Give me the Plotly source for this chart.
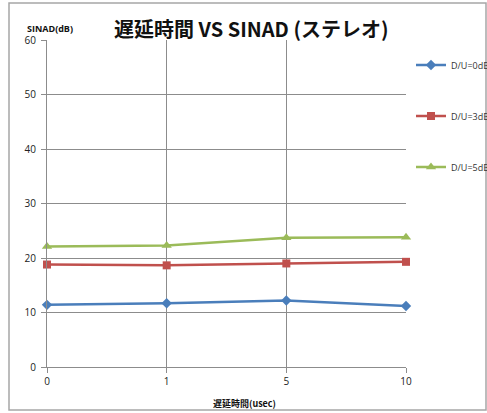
import plotly.graph_objects as go

# Delay time categories (usec) and SINAD readings (dB) per D/U ratio
delays = ["0", "1", "5", "10"]
sinad_du0 = [11.4, 11.7, 12.2, 11.2]
sinad_du3 = [18.8, 18.65, 19.0, 19.3]
sinad_du5 = [22.1, 22.3, 23.7, 23.8]
series_names = ["D/U=0dB", "D/U=3dB", "D/U=5dB"]
y_ticks = [0, 10, 20, 30, 40, 50, 60]

W, H = 487, 413
ML, MR, MT, MB = 47, 81, 40, 46
PW, PH = W - ML - MR, H - MT - MB

def px_x(p):
    return (p - ML) / PW

def px_y(p):
    return (H - MB - p) / PH

grid = "#8c8c8c"
font = "Open Sans, Noto Sans CJK JP, sans-serif"
cjk = "Noto Sans CJK JP, sans-serif"

styles = [
    dict(color="#4a7ebb", symbol="diamond", size=8),
    dict(color="#c0504d", symbol="square", size=8),
    dict(color="#9bbb59", symbol="triangle-up", size=9),
]

fig = go.Figure()
for i, (name, vals, st) in enumerate(zip(series_names, [sinad_du0, sinad_du3, sinad_du5], styles)):
    fig.add_trace(go.Scatter(
        x=delays, y=vals, name=name, mode="lines+markers",
        line=dict(color=st["color"], width=2.5),
        marker=dict(color=st["color"], symbol=st["symbol"], size=st["size"]),
        cliponaxis=False,
        legend="legend" if i == 0 else f"legend{i + 1}",
    ))

legend_rows = [65, 116, 167]
legend_common = dict(
    x=px_x(411), xanchor="left", yanchor="middle",
    font=dict(family=font, size=9, color="#333333"),
    bgcolor="rgba(0,0,0,0)", itemwidth=30,
)
fig.update_layout(
    legend=dict(y=px_y(legend_rows[0]), **legend_common),
    legend2=dict(y=px_y(legend_rows[1]), **legend_common),
    legend3=dict(y=px_y(legend_rows[2]), **legend_common),
)

fig.update_layout(
    width=W, height=H,
    margin=dict(l=ML, r=MR, t=MT, b=MB, autoexpand=False),
    paper_bgcolor="white", plot_bgcolor="white",
    showlegend=True,
    xaxis=dict(
        type="category", range=[0, 3], showgrid=True, gridcolor=grid, gridwidth=1,
        showline=True, linecolor=grid, linewidth=1,
        ticks="outside", ticklen=5, tickcolor=grid,
        tickfont=dict(family=font, size=10, color="#222222"),
        zeroline=False, fixedrange=True,
    ),
    yaxis=dict(
        range=[0, 60], tickvals=y_ticks, showgrid=True, gridcolor=grid, gridwidth=1,
        showline=True, linecolor=grid, linewidth=1,
        ticks="outside", ticklen=5, tickcolor=grid, ticklabelstandoff=3,
        tickfont=dict(family=font, size=10, color="#222222"),
        zeroline=False, fixedrange=True,
    ),
    shapes=[dict(
        type="rect", xref="paper", yref="paper",
        x0=px_x(9), x1=px_x(486), y0=px_y(410), y1=px_y(3),
        line=dict(color="#a6a6a6", width=1.5), fillcolor="rgba(0,0,0,0)", layer="below",
    )],
    annotations=[
        dict(text="<b>遅延時間 VS SINAD (ステレオ)</b>", xref="paper", yref="paper",
             x=px_x(251), y=px_y(29), xanchor="center", yanchor="middle",
             showarrow=False, font=dict(family=cjk, size=20, color="#111111")),
        dict(text="<b>SINAD(dB)</b>", xref="paper", yref="paper",
             x=px_x(25), y=px_y(28), xanchor="left", yanchor="middle",
             showarrow=False, font=dict(family=font, size=9, color="#111111")),
        dict(text="<b>遅延時間(usec)</b>", xref="paper", yref="paper",
             x=px_x(244), y=px_y(403), xanchor="center", yanchor="middle",
             showarrow=False, font=dict(family=cjk, size=9, color="#111111")),
    ],
)

fig.write_html("out.html")
